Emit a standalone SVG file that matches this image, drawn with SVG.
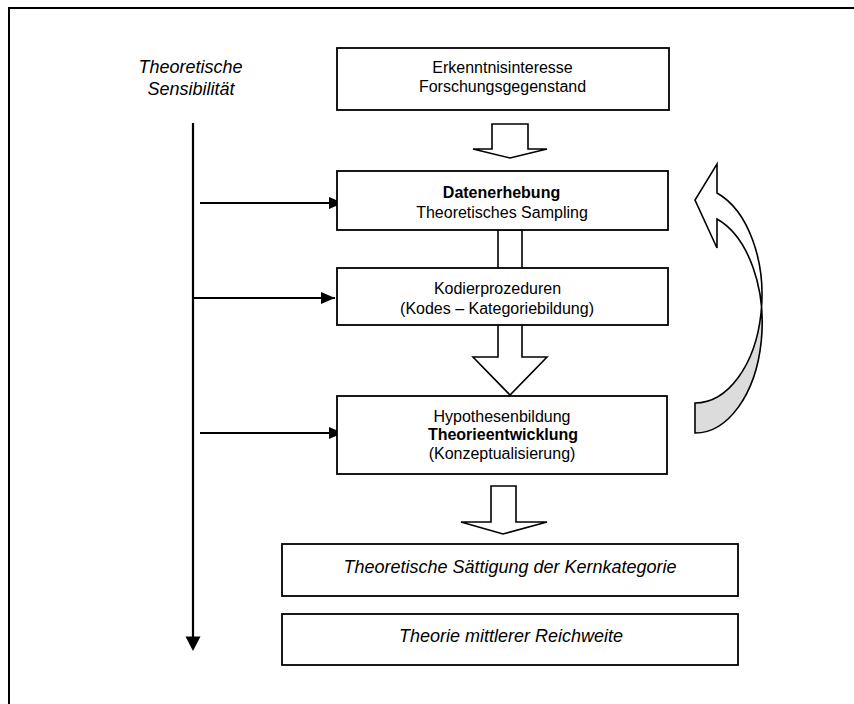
<svg xmlns="http://www.w3.org/2000/svg" width="854" height="704" viewBox="0 0 854 704">
<style>
.box{fill:#fff;stroke:#000;stroke-width:1.8}
.blk{fill:#fff;stroke:#000;stroke-width:1.6;stroke-linejoin:miter}
.ln{fill:none;stroke:#000;stroke-width:2.2}
.t{font-family:"Liberation Sans",Arial,sans-serif;font-size:16px;fill:#000;text-anchor:middle}
.b{font-weight:bold}
.i{font-style:italic;font-size:18px}
</style>
<defs>
<marker id="ah" viewBox="0 0 14 12" refX="14" refY="6" markerWidth="14" markerHeight="12" markerUnits="userSpaceOnUse" orient="auto">
<path d="M0,0 L14,6 L0,12 Z" fill="#000"/>
</marker>
<clipPath id="upper"><rect x="680" y="150" width="100" height="159"/></clipPath>
<clipPath id="lower"><rect x="680" y="309" width="100" height="140"/></clipPath>
</defs>
<rect x="0" y="0" width="854" height="704" fill="#fff"/>
<g id="frame">
<path d="M9,704 L9,8 L854,8" fill="none" stroke="#000" stroke-width="2"/>
</g>
<g id="connectors">
<path class="ln" d="M193,123 L193,637"/>
<path d="M185.5,636.5 L200.5,636.5 L193,651 Z" fill="#000"/>
<path class="ln" d="M200,203 L343,203" marker-end="url(#ah)"/>
<path class="ln" d="M193,298 L335,298" marker-end="url(#ah)"/>
<path class="ln" d="M200,433 L343,433" marker-end="url(#ah)"/>
<path class="blk" d="M492,124 L528,124 L528,149 L547,149 L510,158 L473,149 L492,149 Z"/>
<path class="blk" d="M498,230 L522,230 L522,357 L547,357 L510,395 L473,357 L498,357 Z"/>
<path class="blk" d="M491,486 L516,486 L516,522 L547,522 L503,534 L461,522 L491,522 Z"/>
<g id="loop">
<path d="M695,403 A67,108 0 0 0 717,193 L717,164 L695,200 L717,248 L717,219 A67,110 0 0 1 695,433 Z" fill="#fff" clip-path="url(#upper)"/>
<path d="M695,403 A67,108 0 0 0 717,193 L717,164 L695,200 L717,248 L717,219 A67,110 0 0 1 695,433 Z" fill="#dcdcdc" clip-path="url(#lower)"/>
<path d="M695,403 A67,108 0 0 0 717,193 L717,164 L695,200 L717,248 L717,219 A67,110 0 0 1 695,433 Z" fill="none" stroke="#000" stroke-width="1.6" stroke-linejoin="miter"/>
</g>
</g>
<g id="sensibilitaet">
<text class="t i" x="190.5" y="73">Theoretische</text>
<text class="t i" x="191" y="95">Sensibilität</text>
</g>
<g id="erkenntnis">
<rect class="box" x="337" y="48" width="332" height="62"/>
<text class="t" x="502.5" y="73.3">Erkenntnisinteresse</text>
<text class="t" x="502.5" y="91.7">Forschungsgegenstand</text>
</g>
<g id="datenerhebung">
<rect class="box" x="337" y="171" width="331" height="59"/>
<text class="t b" x="501.5" y="197.5">Datenerhebung</text>
<text class="t" x="502" y="217.5">Theoretisches Sampling</text>
</g>
<g id="kodier">
<rect class="box" x="337" y="268" width="331" height="57"/>
<text class="t" x="497.5" y="294">Kodierprozeduren</text>
<text class="t" x="497" y="314.3">(Kodes – Kategoriebildung)</text>
</g>
<g id="hypothesen">
<rect class="box" x="337" y="396" width="330" height="78"/>
<text class="t" x="502" y="421.7">Hypothesenbildung</text>
<text class="t b" x="503" y="440">Theorieentwicklung</text>
<text class="t" x="502" y="458.5">(Konzeptualisierung)</text>
</g>
<g id="saettigung">
<rect class="box" x="282" y="544" width="456" height="52"/>
<text class="t i" x="510" y="572.7">Theoretische Sättigung der Kernkategorie</text>
</g>
<g id="reichweite">
<rect class="box" x="282" y="614" width="456" height="51"/>
<text class="t i" x="511" y="641.7">Theorie mittlerer Reichweite</text>
</g>
</svg>
